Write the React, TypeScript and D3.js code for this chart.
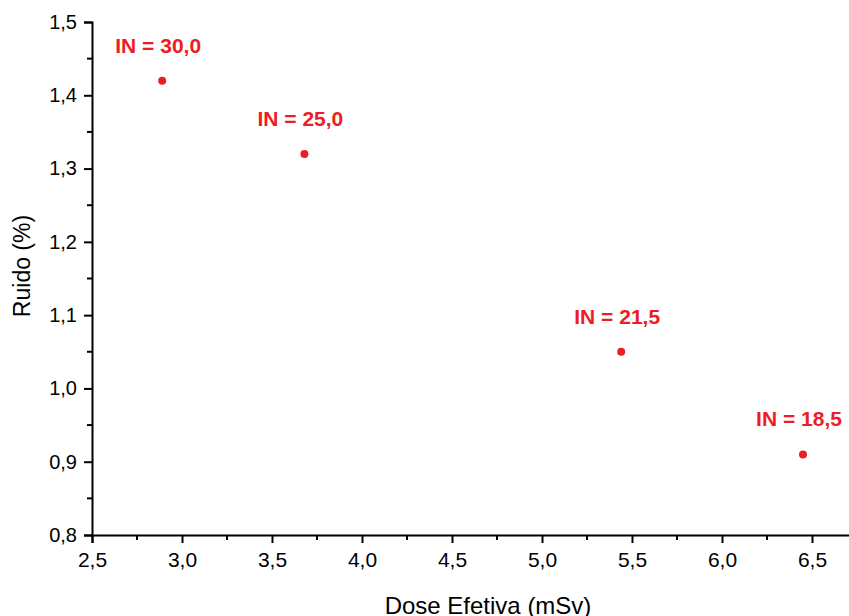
import { useEffect, useRef } from 'react';
import * as d3 from 'd3';

const doses = [2.89, 3.68, 5.44, 6.45];
const noise = [1.42, 1.32, 1.05, 0.91];
const labels = ['IN = 30,0', 'IN = 25,0', 'IN = 21,5', 'IN = 18,5'];
const xTicks = [2.5, 3.0, 3.5, 4.0, 4.5, 5.0, 5.5, 6.0, 6.5];
const yTicks = [0.8, 0.9, 1.0, 1.1, 1.2, 1.3, 1.4, 1.5];

const RED = '#ee1c25';
const FONT = '"Liberation Sans", Arial, sans-serif';

const fmt = (v: number) => v.toFixed(1).replace('.', ',');

const App = () => {
  const svgRef = useRef<SVGSVGElement>(null);

  useEffect(() => {
    const width = 849;
    const height = 616;
    const left = 92;
    const top = 22;
    const bottom = 535;

    const svg = d3.select(svgRef.current);
    svg.selectAll('*').remove();
    svg.attr('width', width).attr('height', height);

    const x = d3.scaleLinear().domain([2.5, 6.75]).range([left, left + 4.25 * 180]);
    const y = d3.scaleLinear().domain([0.8, 1.5]).range([bottom, top]);

    // x axis
    const xAxis = d3.axisBottom(x).tickValues(xTicks).tickFormat(d => fmt(+d)).tickSizeOuter(0).tickSize(8).tickPadding(9);
    const gx = svg.append('g').attr('transform', `translate(0,${bottom})`).call(xAxis);
    gx.select('.domain').attr('stroke', '#000').attr('stroke-width', 2);
    gx.selectAll('.tick line').attr('stroke', '#000').attr('stroke-width', 2);
    gx.selectAll('.tick text').attr('font-family', FONT).attr('font-size', 21).attr('fill', '#000');

    // x minor ticks
    svg.append('g').selectAll('line')
      .data(xTicks.map(t => t + 0.25).filter(t => t < 6.75))
      .join('line')
      .attr('x1', d => x(d)).attr('x2', d => x(d))
      .attr('y1', bottom).attr('y2', bottom + 5)
      .attr('stroke', '#000').attr('stroke-width', 2);

    // y axis
    const yAxis = d3.axisLeft(y).tickValues(yTicks).tickFormat(d => fmt(+d)).tickSizeOuter(0).tickSize(8).tickPadding(7);
    const gy = svg.append('g').attr('transform', `translate(${left},0)`).call(yAxis);
    gy.select('.domain').attr('stroke', '#000').attr('stroke-width', 2);
    gy.selectAll('.tick line').attr('stroke', '#000').attr('stroke-width', 2);
    gy.selectAll('.tick text').attr('font-family', FONT).attr('font-size', 20).attr('fill', '#000');

    // y minor ticks
    svg.append('g').selectAll('line')
      .data(yTicks.slice(0, -1).map(t => t + 0.05))
      .join('line')
      .attr('x1', left - 5).attr('x2', left)
      .attr('y1', d => y(d)).attr('y2', d => y(d))
      .attr('stroke', '#000').attr('stroke-width', 2);

    // points
    svg.append('g').selectAll('circle')
      .data(doses)
      .join('circle')
      .attr('cx', d => x(d))
      .attr('cy', (_, i) => y(noise[i]))
      .attr('r', 4)
      .attr('fill', RED);

    // labels
    svg.append('g').selectAll('text')
      .data(labels)
      .join('text')
      .attr('x', (_, i) => x(doses[i]) - 4)
      .attr('y', (_, i) => y(noise[i]) - 28)
      .attr('text-anchor', 'middle')
      .attr('font-family', FONT)
      .attr('font-weight', 700)
      .attr('font-size', 21)
      .attr('fill', RED)
      .text(d => d);

    // axis titles (bottom one is cut by the frame, as in the source)
    svg.append('text')
      .attr('x', 488)
      .attr('y', 614)
      .attr('text-anchor', 'middle')
      .attr('font-family', FONT)
      .attr('font-size', 24)
      .attr('fill', '#000')
      .text('Dose Efetiva (mSv)');

    svg.append('text')
      .attr('transform', 'translate(30,266) rotate(-90)')
      .attr('text-anchor', 'middle')
      .attr('font-family', FONT)
      .attr('font-size', 23)
      .attr('fill', '#000')
      .text('Ruido (%)');
  }, []);

  return (
    <div style={{ position: 'absolute', left: 0, top: 0, background: '#fff' }}>
      <svg ref={svgRef} style={{ display: 'block' }} />
    </div>
  );
};

export default App;
